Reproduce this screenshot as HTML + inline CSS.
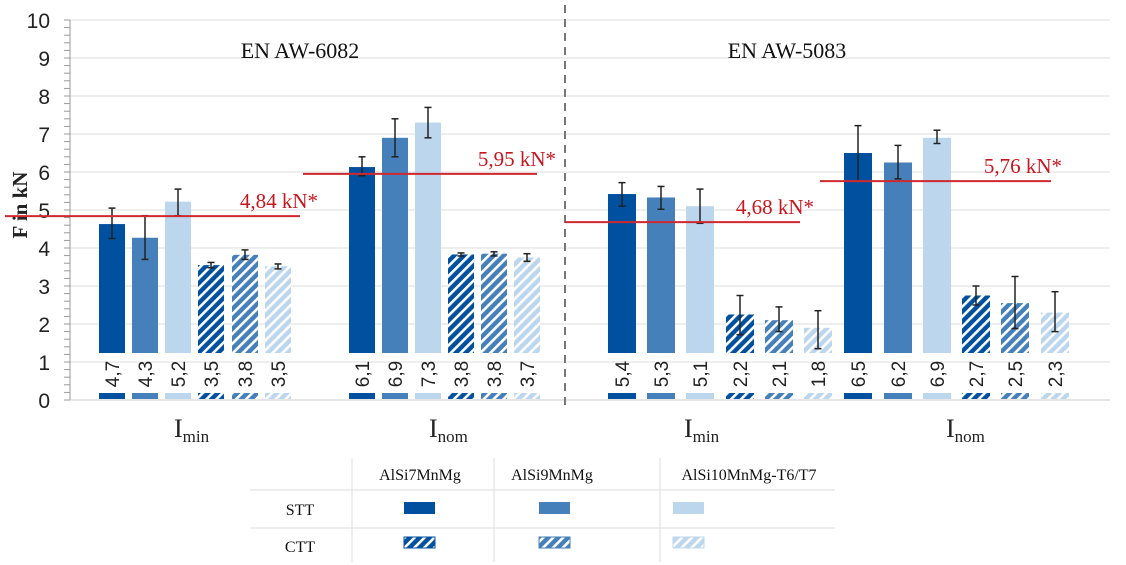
<!DOCTYPE html>
<html><head><meta charset="utf-8">
<style>
html,body{margin:0;padding:0;background:#fff;}
svg{display:block;font-family:"Liberation Serif",serif;}
</style></head>
<body>
<svg id="c" width="1126" height="565" viewBox="0 0 1126 565" xmlns="http://www.w3.org/2000/svg">
<defs>
<pattern id="h0" width="7" height="7" patternUnits="userSpaceOnUse" patternTransform="rotate(45)"><rect width="7" height="7" fill="#0050a0"/><rect width="2.6" height="7" fill="#fff"/></pattern>
<pattern id="h1" width="7" height="7" patternUnits="userSpaceOnUse" patternTransform="rotate(45)"><rect width="7" height="7" fill="#4580ba"/><rect width="2.6" height="7" fill="#fff"/></pattern>
<pattern id="h2" width="7" height="7" patternUnits="userSpaceOnUse" patternTransform="rotate(45)"><rect width="7" height="7" fill="#bcd6ee"/><rect width="2.6" height="7" fill="#fff"/></pattern>
</defs>
<g id="g"></g>
</svg>
<script>
var g=document.getElementById('g'),s='';
function Y(v){return 400-v*38;}
for(var i=1;i<=10;i++)s+='<line x1="70" x2="1110" y1="'+Y(i)+'" y2="'+Y(i)+'" stroke="#e3e3e3" stroke-width="1.3"/>';
s+='<line x1="70" x2="70" y1="20" y2="400" stroke="#999" stroke-width="1"/>';
s+='<line x1="70" x2="1110" y1="400" y2="400" stroke="#ccc" stroke-width="1"/>';
for(var i=0;i<=50;i++){var y=Y(i/5);s+='<line x1="64" x2="70" y1="'+y+'" y2="'+y+'" stroke="#999" stroke-width="1"/>';}
for(var i=0;i<=10;i++)s+='<text x="50" y="'+(Y(i)+8)+'" font-family="Liberation Sans,sans-serif" font-size="21" text-anchor="end" fill="#222">'+i+'</text>';
s+='<text transform="translate(27,205) rotate(-90)" font-size="21" font-weight="bold" text-anchor="middle" fill="#222">F in kN</text>';
s+='<line x1="565" x2="565" y1="5" y2="405" stroke="#777" stroke-width="2" stroke-dasharray="8,6"/>';
var cols=['#0050a0','#4580ba','#bcd6ee','url(#h0)','url(#h1)','url(#h2)'];
var G=[
[26,[[112,4.63,4.25,5.05,'4,7'],[145,4.27,3.7,4.85,'4,3'],[178,5.22,4.85,5.55,'5,2'],[211,3.55,3.48,3.62,'3,5'],[245,3.82,3.7,3.95,'3,8'],[278,3.52,3.45,3.58,'3,5']]],
[26,[[362,6.13,5.9,6.4,'6,1'],[395,6.9,6.4,7.4,'6,9'],[428,7.3,6.9,7.7,'7,3'],[461,3.83,3.79,3.87,'3,8'],[494,3.85,3.79,3.9,'3,8'],[527,3.75,3.65,3.85,'3,7']]],
[28,[[622,5.42,5.1,5.72,'5,4'],[661,5.33,5.02,5.62,'5,3'],[700,5.1,4.65,5.55,'5,1'],[740,2.25,1.72,2.75,'2,2'],[779,2.1,1.8,2.45,'2,1'],[818,1.9,1.35,2.35,'1,8']]],
[28,[[858,6.5,5.76,7.22,'6,5'],[898,6.25,5.82,6.7,'6,2'],[937,6.9,6.75,7.1,'6,9'],[976,2.75,2.5,3.0,'2,7'],[1015,2.55,1.88,3.25,'2,5'],[1055,2.3,1.8,2.85,'2,3']]]];
G.forEach(function(gr){var w=gr[0];gr[1].forEach(function(b,j){
 var x=b[0]-w/2,t=Y(b[1]);
 s+='<rect x="'+x+'" y="'+t+'" width="'+w+'" height="'+(353-t)+'" fill="'+cols[j]+'"/>';
 s+='<rect x="'+x+'" y="393" width="'+w+'" height="6" fill="'+cols[j]+'"/>';
 var a=Y(b[3]),c=Y(b[2]);
 s+='<line x1="'+b[0]+'" x2="'+b[0]+'" y1="'+a+'" y2="'+c+'" stroke="#222" stroke-width="1.5"/>';
 s+='<line x1="'+(b[0]-3.5)+'" x2="'+(b[0]+3.5)+'" y1="'+a+'" y2="'+a+'" stroke="#222" stroke-width="1.5"/>';
 s+='<line x1="'+(b[0]-3.5)+'" x2="'+(b[0]+3.5)+'" y1="'+c+'" y2="'+c+'" stroke="#222" stroke-width="1.5"/>';
 s+='<text transform="translate('+(b[0]+7)+',374) rotate(-90)" font-family="Liberation Sans,sans-serif" font-size="19" text-anchor="middle" fill="#222">'+b[4]+'</text>';
});});
var R=[[5,300,4.84,'4,84 kN*',318],[303,537,5.95,'5,95 kN*',556],[565,800,4.68,'4,68 kN*',814],[820,1051,5.76,'5,76 kN*',1062]];
R.forEach(function(r){var y=Y(r[2]);s+='<line x1="'+r[0]+'" x2="'+r[1]+'" y1="'+y+'" y2="'+y+'" stroke="#d0282e" stroke-width="2"/>';
 s+='<text x="'+r[4]+'" y="'+(y-8)+'" font-size="21" text-anchor="end" fill="#c8161e">'+r[3]+'</text>';});
s+='<text x="300" y="58" font-size="22" text-anchor="middle" fill="#111">EN AW-6082</text>';
s+='<text x="787" y="58" font-size="22" text-anchor="middle" fill="#111">EN AW-5083</text>';
[[190,'min'],[445,'nom'],[700,'min'],[962,'nom']].forEach(function(l){
 s+='<text x="'+(l[0]-16)+'" y="437" font-size="26" fill="#222">I<tspan font-size="17" dy="5">'+l[1]+'</tspan></text>';});
s+='<line x1="250" x2="835" y1="490" y2="490" stroke="#ddd"/><line x1="250" x2="835" y1="528" y2="528" stroke="#ddd"/>';
[352,494,660].forEach(function(x){s+='<line x1="'+x+'" x2="'+x+'" y1="458" y2="562" stroke="#ddd"/>';});
s+='<text x="420" y="480" font-size="16" text-anchor="middle" fill="#111">AlSi7MnMg</text>';
s+='<text x="552" y="480" font-size="16" text-anchor="middle" fill="#111">AlSi9MnMg</text>';
s+='<text x="749" y="480" font-size="16" text-anchor="middle" fill="#111">AlSi10MnMg-T6/T7</text>';
s+='<text x="300" y="515" font-size="16" text-anchor="middle" fill="#111">STT</text>';
s+='<text x="300" y="552" font-size="16" text-anchor="middle" fill="#111">CTT</text>';
[[404,0],[539,1],[673,2]].forEach(function(l){
 s+='<rect x="'+l[0]+'" y="502" width="31" height="12" fill="'+cols[l[1]]+'"/>';
 s+='<rect x="'+l[0]+'" y="537" width="31" height="11" fill="'+cols[l[1]+3]+'" stroke="'+cols[l[1]]+'" stroke-width="1"/>';});
g.innerHTML=s;
</script>
</body></html>
